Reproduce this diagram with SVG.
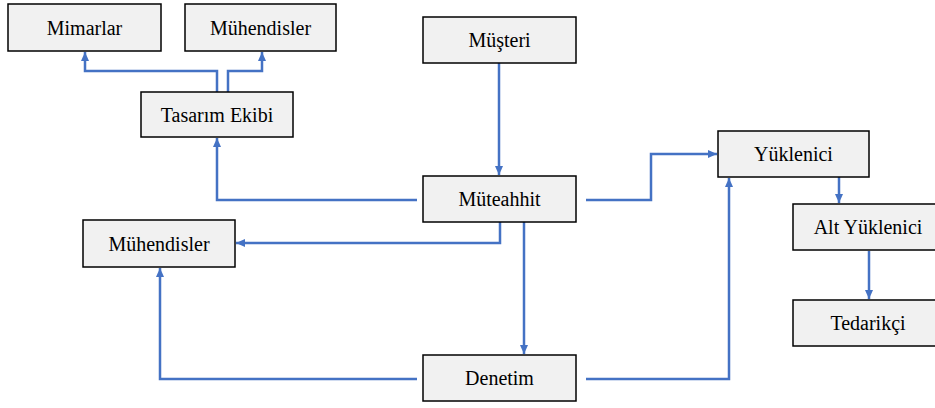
<svg xmlns="http://www.w3.org/2000/svg" width="935" height="408" viewBox="0 0 935 408">
<style>
.box{fill:#f1f1f1;stroke:#000;stroke-width:1.5}
.t{font-family:'Liberation Serif','Times New Roman',serif;font-size:20px;fill:#000;text-anchor:middle}
.c{fill:none;stroke:#4472c4;stroke-width:2.5}
</style>
<defs>
<marker id="ah" markerUnits="userSpaceOnUse" markerWidth="9" markerHeight="9" viewBox="0 0 9 9" refX="9" refY="4.5" orient="auto">
<path d="M0,0.5 L9,4.5 L0,8.5 Z" fill="#4472c4"/>
</marker>
</defs>
<rect width="935" height="408" fill="#fff"/>
<g id="connectors">
<path class="c" d="M217,92 V71 H85 V52" marker-end="url(#ah)"/>
<path class="c" d="M228,92 V71 H262 V52" marker-end="url(#ah)"/>
<path class="c" d="M499,63 V175" marker-end="url(#ah)"/>
<path class="c" d="M417,200 H217 V138" marker-end="url(#ah)"/>
<path class="c" d="M500,222 V243 H236" marker-end="url(#ah)"/>
<path class="c" d="M524,222 V354" marker-end="url(#ah)"/>
<path class="c" d="M586,200 H651 V154 H717" marker-end="url(#ah)"/>
<path class="c" d="M417,379 H160 V268" marker-end="url(#ah)"/>
<path class="c" d="M586,379 H729 V178" marker-end="url(#ah)"/>
<path class="c" d="M839,177 V203" marker-end="url(#ah)"/>
<path class="c" d="M869,251 V299" marker-end="url(#ah)"/>
</g>
<g id="mimarlar"><rect class="box" x="8" y="4" width="153" height="47"/><text class="t" x="84.5" y="34.5">Mimarlar</text></g>
<g id="muhendisler1"><rect class="box" x="185" y="4" width="151" height="47"/><text class="t" x="260.5" y="34.5">Mühendisler</text></g>
<g id="tasarim"><rect class="box" x="141" y="92" width="152" height="45"/><text class="t" x="217" y="121.5">Tasarım Ekibi</text></g>
<g id="musteri"><rect class="box" x="423" y="17" width="153" height="46"/><text class="t" x="499.5" y="47">Müşteri</text></g>
<g id="muteahhit"><rect class="box" x="423" y="176" width="153" height="46"/><text class="t" x="499.5" y="206">Müteahhit</text></g>
<g id="muhendisler2"><rect class="box" x="83" y="220" width="152" height="47"/><text class="t" x="159" y="250.5">Mühendisler</text></g>
<g id="denetim"><rect class="box" x="423" y="355" width="153" height="46"/><text class="t" x="499.5" y="385">Denetim</text></g>
<g id="yuklenici"><rect class="box" x="718" y="131" width="151" height="46"/><text class="t" x="793.5" y="161">Yüklenici</text></g>
<g id="altyuklenici"><rect class="box" x="793" y="204" width="148" height="46"/><text class="t" x="868" y="234">Alt Yüklenici</text></g>
<g id="tedarikci"><rect class="box" x="793" y="300" width="148" height="46"/><text class="t" x="868" y="330">Tedarikçi</text></g>
</svg>
